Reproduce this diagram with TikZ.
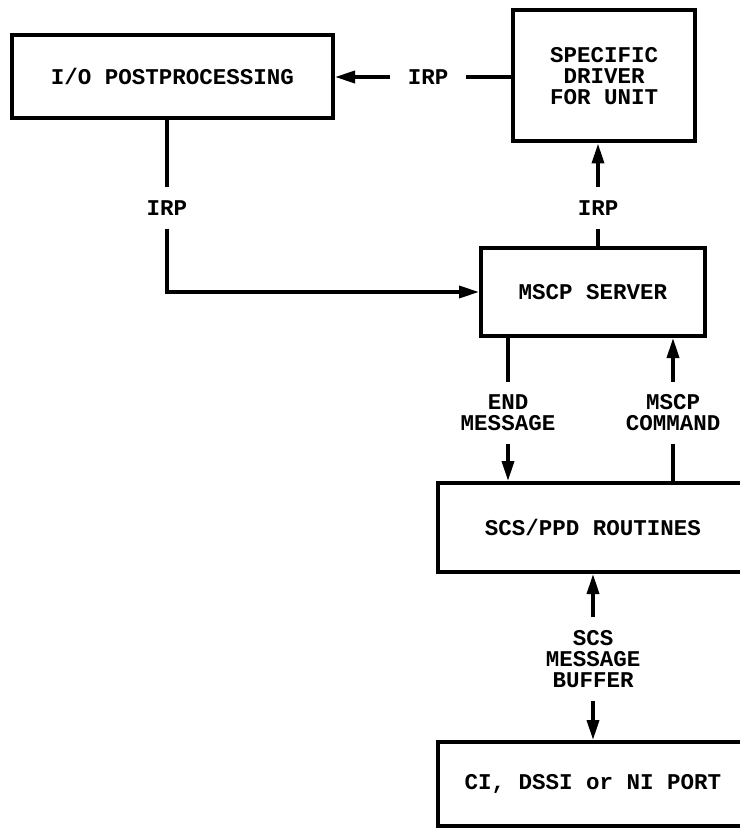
\documentclass[tikz,border=0pt]{standalone}
\usepackage{fontspec}
\setmonofont{Liberation Mono}
\usetikzlibrary{arrows.meta,positioning,calc}

\begin{document}
\begin{tikzpicture}[
  x=1pt,y=-1pt,
  every node/.style={font=\ttfamily\bfseries\fontsize{22.5}{21}\selectfont},
  block/.style={draw,line width=4pt,align=center,inner sep=0pt},
  tag/.style={align=center,inner xsep=18pt,inner ysep=13pt},
  link/.style={line width=3.5pt},
  flow/.style={link,-{Triangle[length=20pt,width=12pt]}}
]
  \useasboundingbox (0,0) rectangle (739,829);

  \node[block,minimum width=321pt,minimum height=83pt]  (post) at (172.5,76.5) {I/O POSTPROCESSING};
  \node[block,minimum width=182pt,minimum height=131pt] (drv)  at (604,76)     {SPECIFIC\\DRIVER\\FOR UNIT};
  \node[block,minimum width=224pt,minimum height=88pt]  (mscp) at (593,292)    {MSCP SERVER};
  \node[block,minimum width=310pt,minimum height=89pt]  (scs)  at (593,527.5)  {SCS/PPD ROUTINES};
  \node[block,minimum width=310pt,minimum height=84pt]  (port) at (593,784)    {CI, DSSI or NI PORT};

  \node[tag] (irpT) at (428,77)  {IRP};
  \node[tag] (irpL) at (167,208) {IRP};
  \node[tag] (irpR) at (598,208) {IRP};
  \node[tag] (endm) at (508,413) {END\\MESSAGE};
  \node[tag] (cmd)  at (673,413) {MSCP\\COMMAND};
  \node[tag] (buf)  at (593,659) {SCS\\MESSAGE\\BUFFER};

  \draw[link] (drv.west |- irpT) -- (irpT);
  \draw[flow] (irpT) -- (post.east |- irpT);
  \draw[link] (post.south -| irpL) -- (irpL);
  \draw[flow] (irpL) |- (mscp.west);
  \draw[link] (mscp.north -| irpR) -- (irpR);
  \draw[flow] (irpR) -- (drv.south -| irpR);
  \draw[link] (mscp.south -| endm) -- (endm);
  \draw[flow] (endm) -- (scs.north -| endm);
  \draw[link] (scs.north -| cmd) -- (cmd);
  \draw[flow] (cmd) -- (mscp.south -| cmd);
  \foreach \b in {scs,port}{
    \draw[flow] (buf) -- (\b);
  }
\end{tikzpicture}
\end{document}
